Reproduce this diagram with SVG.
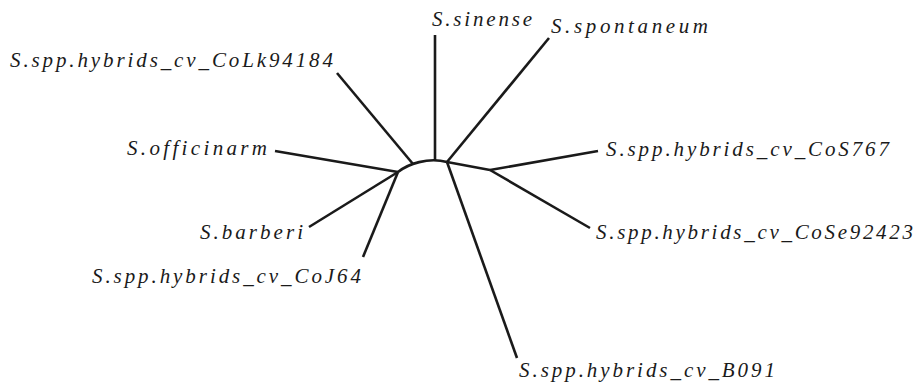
<svg xmlns="http://www.w3.org/2000/svg" width="921" height="382" viewBox="0 0 921 382">
  <style>
    .edge { fill: none; stroke: #1a1a1a; stroke-width: 2.6; stroke-linecap: butt; stroke-linejoin: round; }
    .tip { font-family: "Liberation Serif", "DejaVu Serif", serif; font-style: italic; font-size: 21px; fill: #1a1a1a; }
  </style>
  <rect width="921" height="382" fill="#ffffff"/>

  <!-- branches of the unrooted tree -->
  <g id="edges">
    <!-- central arc joining the two hubs -->
    <path class="edge" d="M398,172 C408,164 428,157 447,162"/>
    <!-- left hub -->
    <path class="edge" d="M398,172 L275,151"/>
    <path class="edge" d="M398,172 L309,227"/>
    <path class="edge" d="M398,172 L363,257"/>
    <!-- leaves hanging off the arc -->
    <path class="edge" d="M413,164 L337,73"/>
    <path class="edge" d="M435,160 L435,35"/>
    <!-- right hub -->
    <path class="edge" d="M447,162 L549,38"/>
    <path class="edge" d="M447,162 L517,358"/>
    <path class="edge" d="M447,162 L490,170"/>
    <!-- inner clade -->
    <path class="edge" d="M490,170 L598,151"/>
    <path class="edge" d="M490,170 L590,228"/>
  </g>

  <g id="n-colk94184"><text class="tip" x="10" y="67" textLength="323" lengthAdjust="spacing">S.spp.hybrids_cv_CoLk94184</text></g>
  <g id="n-sinense"><text class="tip" x="432" y="26" textLength="100" lengthAdjust="spacing">S.sinense</text></g>
  <g id="n-spontaneum"><text class="tip" x="551" y="33" textLength="157" lengthAdjust="spacing">S.spontaneum</text></g>
  <g id="n-officinarm"><text class="tip" x="127" y="155" textLength="140" lengthAdjust="spacing">S.officinarm</text></g>
  <g id="n-barberi"><text class="tip" x="200" y="239" textLength="103" lengthAdjust="spacing">S.barberi</text></g>
  <g id="n-coj64"><text class="tip" x="92" y="283" textLength="269" lengthAdjust="spacing">S.spp.hybrids_cv_CoJ64</text></g>
  <g id="n-cos767"><text class="tip" x="606" y="156" textLength="283" lengthAdjust="spacing">S.spp.hybrids_cv_CoS767</text></g>
  <g id="n-cose92423"><text class="tip" x="596" y="239" textLength="317" lengthAdjust="spacing">S.spp.hybrids_cv_CoSe92423</text></g>
  <g id="n-b091"><text class="tip" x="519" y="377" textLength="256" lengthAdjust="spacing">S.spp.hybrids_cv_B091</text></g>
</svg>
